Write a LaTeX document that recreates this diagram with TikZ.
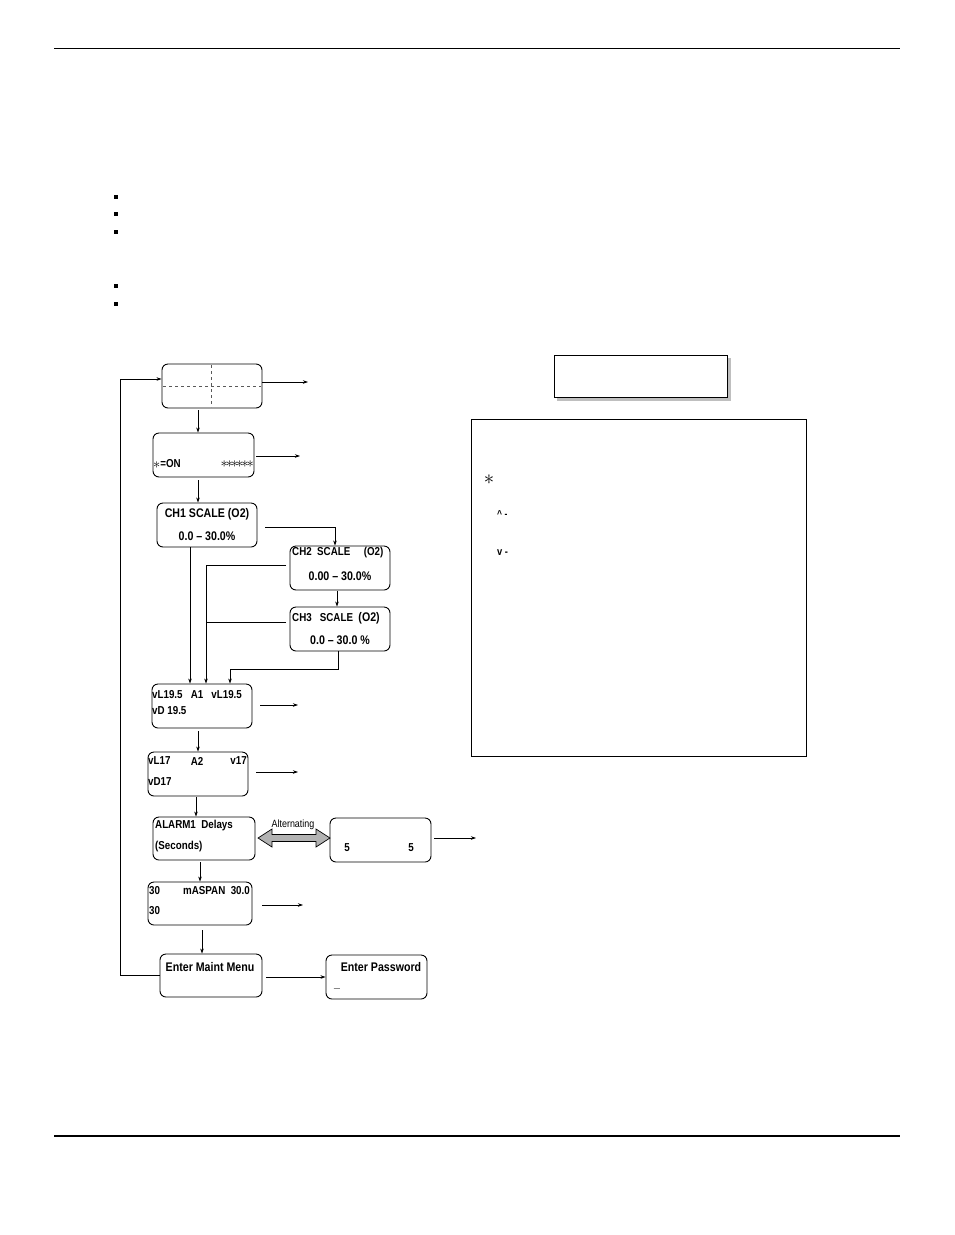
\documentclass[tikz,border=0pt]{standalone}
\usepackage{fontspec}
\setmainfont{Liberation Sans}[FakeStretch=0.85]
\usetikzlibrary{arrows.meta}
\newcommand{\bigast}{\raisebox{-0.25ex}{\fontsize{15}{15}\selectfont$\ast$}}
\begin{document}
\begin{tikzpicture}[x=1pt,y=-1pt,
  box/.style={draw,rounded corners=6pt,line width=0.9pt,inner sep=0pt},
  lbl/.style={font=\bfseries\fontsize{12.5}{13}\selectfont,inner sep=0pt},
  slbl/.style={font=\bfseries\fontsize{11.5}{12}\selectfont,inner sep=0pt},
  arr/.style={-{Stealth[length=5pt,width=3.5pt]},line width=0.7pt},
  ln/.style={line width=0.7pt}]
\useasboundingbox (0,0) rectangle (954,1235);
\draw[line width=0.8pt] (54,48) -- (900,48);
\draw[line width=1.6pt] (54,1136) -- (900,1136);
\foreach \yy/\nm in {197/q1,214/q2,232/q3,286/q4,304/q5}
  \node[fill,minimum size=4pt,inner sep=0pt] (\nm) at (116,\yy) {};
% boxes
\node[box,minimum width=100pt,minimum height=44pt] (b1) at (212,386) {};
\draw[dashed,ln,gray!70!black] (211,365) -- (211,407);
\draw[dashed,ln,gray!70!black] (163,386) -- (261,386);
\node[box,minimum width=101pt,minimum height=44pt] (b2) at (203.5,455) {};
\node[box,minimum width=100pt,minimum height=44pt] (b3) at (207,525) {};
\node[box,minimum width=100pt,minimum height=44pt] (b4) at (340,568) {};
\node[box,minimum width=100pt,minimum height=44pt] (b5) at (340,629) {};
\node[box,minimum width=100pt,minimum height=44pt] (b6) at (202,706) {};
\node[box,minimum width=100pt,minimum height=44pt] (b7) at (198,774) {};
\node[box,minimum width=102pt,minimum height=43pt] (b8) at (204,838.5) {};
\node[box,minimum width=101pt,minimum height=44pt] (b9) at (380.5,840) {};
\node[box,minimum width=104pt,minimum height=43pt] (b10) at (200,903.5) {};
\node[box,minimum width=102pt,minimum height=43pt] (b11) at (211,975.5) {};
\node[box,minimum width=101pt,minimum height=44pt] (b12) at (376.5,977) {};
\node[draw,fill=gray!50,draw=gray!50,minimum width=173pt,minimum height=42pt] (shd) at (643.5,379) {};
\node[draw,fill=white,line width=0.9pt,minimum width=173pt,minimum height=42pt] (rb) at (640.5,376) {};
\node[draw,line width=1pt,minimum width=335pt,minimum height=337pt] (lg) at (638.5,587.5) {};
% texts
\node[slbl,anchor=west] (t2a) at (153,464) {\bigast=ON};
\node[slbl,anchor=east] (t2b) at (254,464) {\bigast\kern-2pt\bigast\kern-2pt\bigast\kern-2pt\bigast\kern-2pt\bigast\kern-2pt\bigast};
\node[lbl] (t3a) at (207,514) {CH1 SCALE (O2)};
\node[lbl] (t3b) at (207,536) {0.0 – 30.0\%};
\node[slbl,anchor=west] (t4a) at (292,553) {CH2\ \ SCALE\ \ \ \ \ (O2)};
\node[lbl] (t4b) at (340,576) {0.00 – 30.0\%};
\node[slbl,anchor=west] (t5a) at (292,618) {CH3\ \ \ SCALE\ \ {\fontsize{12.5}{13}\selectfont(O2)}};
\node[lbl] (t5b) at (340,640) {0.0 – 30.0 \%};
\node[slbl,anchor=west] (t6a) at (152,695) {vL19.5\ \ \ A1\ \ \ vL19.5};
\node[slbl,anchor=west] (t6b) at (152,711) {vD 19.5};
\node[slbl,anchor=west] (t7a) at (148,761) {vL17};
\node[slbl] (t7c) at (197,761) {A2};
\node[slbl,anchor=east] (t7d) at (247,761) {v17};
\node[slbl,anchor=west] (t7b) at (148,782) {vD17};
\node[slbl,anchor=west] (t8a) at (155,826) {ALARM1\ \ Delays};
\node[slbl,anchor=west] (t8b) at (155,847) {(Seconds)};
\node[slbl] (t9a) at (347,848) {5};
\node[slbl] (t9b) at (411,848) {5};
\node[slbl,anchor=west] (t10a) at (149,891) {30};
\node[slbl,anchor=east] (t10c) at (250,891) {mASPAN\ \ 30.0};
\node[slbl,anchor=west] (t10b) at (149,911) {30};
\node[lbl] (t11) at (210,967) {Enter Maint Menu};
\node[lbl] (t12a) at (381,967) {Enter Password};
\node[lbl] (t12b) at (337,988) {\_};
\node[inner sep=0pt,font=\fontsize{10.5}{11}\selectfont] (alt) at (293,825) {Alternating};
\node[inner sep=0pt,font=\fontsize{22}{22}\selectfont] (st) at (489,480) {$\ast$};
\node[slbl,anchor=west,font=\bfseries\fontsize{10}{10}\selectfont] (up) at (497,514) {\^{} -};
\node[slbl,anchor=west,font=\bfseries\fontsize{11}{11}\selectfont] (dn) at (497,553) {v -};
% double arrow
\draw[fill=gray!60,line width=0.7pt] (258,838) -- (272,829) -- (272,834.5) -- (316,834.5) -- (316,829) -- (330,838) -- (316,847) -- (316,841.5) -- (272,841.5) -- (272,847) -- cycle;
% connectors
\coordinate (o1) at (308,382); \coordinate (o2) at (300,456);
\coordinate (o6) at (298,705); \coordinate (o7) at (298,772);
\coordinate (o9) at (476,838); \coordinate (o10) at (303,905);
\draw[arr] (b1.east |- 0,382) -- (o1);
\draw[arr] (b2.east |- 0,456) ++(2,0) -- (o2);
\draw[arr] (b6.east |- 0,705) ++(8,0) -- (o6);
\draw[arr] (b7.east |- 0,772) ++(8,0) -- (o7);
\draw[arr] (b9.east |- 0,838) ++(3,0) -- (o9);
\draw[arr] (b10.east |- 0,905) ++(10,0) -- (o10);
\draw[arr] (b11.east |- 0,977) ++(4,0) -- (b12.west |- 0,977);
\draw[arr] (198,410) -- (b2.north -| 198,0);
\draw[arr] (198,480) -- (b3.north -| 198,0);
\draw[arr] (265,527) -| (b4.north -| 335,0);
\draw[arr] (337,591) -- (b5.north -| 337,0);
\draw[arr] (190,547) -- (b6.north -| 190,0);
\draw[arr] (286,565) -| (b6.north -| 206,0);
\draw[ln] (286,622) -- (206,622);
\draw[arr] (b5.south -| 338,0) |- (230,669) -- (b6.north -| 230,0);
\draw[arr] (198,731) -- (b7.north -| 198,0);
\draw[arr] (196,797) -- (b8.north -| 196,0);
\draw[arr] (200,862) -- (b10.north -| 200,0);
\draw[arr] (202,930) -- (b11.north -| 202,0);
\draw[arr] (b11.west |- 0,975) -- (120,975) |- (b1.west |- 0,379);
\end{tikzpicture}
\end{document}
